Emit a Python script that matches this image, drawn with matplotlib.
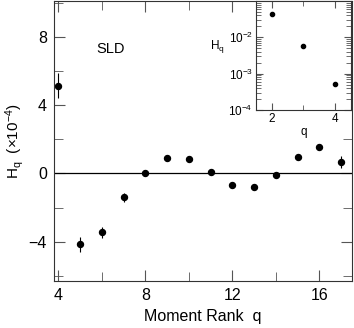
import numpy as np
import matplotlib
matplotlib.use("Agg")
from matplotlib import pyplot as plt
from matplotlib.ticker import MultipleLocator, LogLocator, NullFormatter

plt.rcParams['font.family'] = ['Liberation Sans', 'DejaVu Sans']
plt.rcParams['mathtext.fontset'] = 'custom'
plt.rcParams['mathtext.rm'] = 'Liberation Sans'
plt.rcParams['mathtext.it'] = 'Liberation Sans'

# main panel: H_q (x1e-4) vs moment rank
q = [4, 5, 6, 7, 8, 9, 10, 11, 12, 13, 14, 15, 16, 17]
hq = [5.15, -4.15, -3.45, -1.4, 0.05, 0.9, 0.85, 0.1, -0.65, -0.8, -0.1, 0.95, 1.55, 0.7]
hq_err = [0.75, 0.45, 0.3, 0.25, 0.1, 0.1, 0.1, 0.1, 0.1, 0.1, 0.1, 0.1, 0.2, 0.35]

# inset: low ranks, log scale
q_low = [2, 3, 4]
hq_low = [0.044, 0.0056, 0.00053]

fig = plt.figure(figsize=(3.54, 3.28), dpi=100)
ax = fig.add_axes([0.1525, 0.143, 0.842, 0.854])

ax.axhline(0, color='black', lw=0.9)
ax.errorbar(q, hq, yerr=hq_err, fmt='o', color='black', ms=4.3,
            elinewidth=0.8, capsize=0)
ax.set_xlim(3.8, 17.5)
ax.set_ylim(-6.3, 10.1)
ax.xaxis.set_major_locator(MultipleLocator(4))
ax.xaxis.set_minor_locator(MultipleLocator(2))
ax.yaxis.set_major_locator(MultipleLocator(4))
ax.yaxis.set_minor_locator(MultipleLocator(2))
ax.tick_params(which='both', direction='in', top=True, right=True,
               color='#555555', labelsize=11.5, pad=5)
ax.tick_params(which='major', length=8)
ax.tick_params(which='minor', length=6.5)
for s in ax.spines.values():
    s.set_color('#333333')
ax.set_yticks([-4, 0, 4, 8])
ax.set_yticklabels(['\u22124', '0', '4', '8'])
ax.set_xlabel('Moment Rank  q', fontsize=11.5, labelpad=4)
ax.set_ylabel('H$_\\mathregular{q}$  (×10$^{\\mathregular{−4}}$)', fontsize=11, labelpad=2)
ax.text(0.143, 0.83, 'SLD', transform=ax.transAxes, fontsize=10.5, va='center')

ins = fig.add_axes([0.722, 0.665, 0.27, 0.332])
ins.semilogy(q_low, hq_low, 'o', color='black', ms=3)
ins.set_xlim(1.5, 4.5)
ins.set_ylim(1e-4, 1e-1)
ins.set_xticks([2, 4])
ins.xaxis.set_minor_locator(MultipleLocator(1))
ins.yaxis.set_major_locator(LogLocator(base=10, numticks=10))
ins.yaxis.set_minor_locator(LogLocator(base=10, subs=np.arange(2, 10), numticks=10))
ins.yaxis.set_minor_formatter(NullFormatter())
ins.set_yticks([1e-4, 1e-3, 1e-2])
ins.set_yticklabels(['10$^{\\mathregular{−4}}$', '10$^{\\mathregular{−3}}$',
                     '10$^{\\mathregular{−2}}$'])
ins.tick_params(which='both', direction='in', top=True, right=True,
                color='#555555', labelsize=8.5, pad=2)
ins.tick_params(which='major', length=5)
ins.tick_params(which='minor', length=3.5)
for s in ins.spines.values():
    s.set_color('#333333')
ins.set_xlabel('q', fontsize=8.5, labelpad=1)
ins.set_ylabel('H$_\\mathregular{q}$', fontsize=8.5, rotation=0)
ins.yaxis.set_label_coords(-0.4, 0.5)

fig.savefig('out.png', dpi=100)
